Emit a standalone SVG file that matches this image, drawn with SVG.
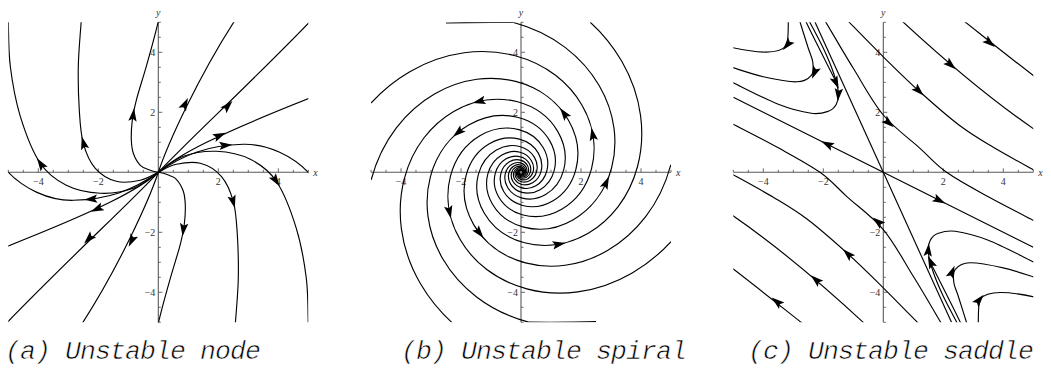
<svg xmlns="http://www.w3.org/2000/svg" xmlns:xlink="http://www.w3.org/1999/xlink" width="1051" height="371" viewBox="0 0 1051 371">
<defs>
<style>
.c{fill:none;stroke:#000;stroke-width:1.15}
.ax{stroke:#5a5a5a;stroke-width:1.1;fill:none}
.tk{stroke:#5a5a5a;stroke-width:0.9;fill:none}
.tl{font-family:"Liberation Serif",serif;font-size:10px;fill:#333}
.al{font-family:"Liberation Serif",serif;font-size:10px;font-style:italic;fill:#333}
.cap{font-family:"Liberation Mono",monospace;font-style:italic;font-size:26.5px;letter-spacing:-0.9px;fill:#000;stroke:#fff;stroke-width:0.6}
</style>
<path id="ah" d="M6,0 L-7,-4.2 L-4.5,0 L-7,4.2 Z" fill="#000"/>
<clipPath id="sq"><rect x="-150" y="-150" width="300" height="300"/></clipPath>
<path id="sb0" class="c" d="M0,1.627 C0.4315,1.7651 0.9613,1.7459 1.4792,1.4792 C1.9971,1.2125 2.4614,0.7133 2.6897,0 C2.9183,-0.7134 2.8866,-1.5894 2.4456,-2.4456 C2.0048,-3.3022 1.1794,-4.0699 0,-4.4473 C-1.1794,-4.8244 -2.6276,-4.7720 -4.0429,-4.0429 C-5.4587,-3.3141 -6.7278,-1.9497 -7.3517,0 C-7.9749,1.9496 -7.8882,4.3435 -6.6830,6.6830 C-5.4783,9.0234 -3.2228,11.1212 0,12.1525 C3.2228,13.1833 7.1803,13.0401 11.0477,11.0477 C14.9156,9.0555 18.3832,5.3273 20.0879,0 C21.7929,-5.3275 21.5560,-11.8694 18.2626,-18.2626 C14.9691,-24.6560 8.8062,-30.3880 0,-33.2060 C-8.8068,-36.0251 -19.6210,-35.6337 -30.1894,-30.1894 C-40.7583,-24.7450 -50.2338,-14.5574 -54.8921,0 C-59.5517,14.5582 -58.9046,32.4347 -49.9049,49.9049 C-40.9051,67.3761 -24.0643,83.0397 0,90.7403 C24.0654,98.4420 53.6161,97.3723 82.4954,82.4954 C111.3770,67.6188 137.2704,39.7799 150,0"/>
<path id="sb1" class="c" d="M0,1.627 C0.4315,1.7651 0.9613,1.7459 1.4792,1.4792 C1.9971,1.2125 2.4614,0.7133 2.6897,0 C2.9183,-0.7134 2.8866,-1.5894 2.4456,-2.4456 C2.0048,-3.3022 1.1794,-4.0699 0,-4.4473 C-1.1794,-4.8244 -2.6276,-4.7720 -4.0429,-4.0429 C-5.4587,-3.3141 -6.7278,-1.9497 -7.3517,0 C-7.9749,1.9496 -7.8882,4.3435 -6.6830,6.6830 C-5.4783,9.0234 -3.2228,11.1212 0,12.1525 C3.2228,13.1833 7.1803,13.0401 11.0477,11.0477 C14.9156,9.0555 18.3832,5.3273 20.0879,0 C21.7929,-5.3275 21.5560,-11.8694 18.2626,-18.2626 C14.9691,-24.6560 8.8062,-30.3880 0,-33.2060 C-8.8068,-36.0251 -19.6210,-35.6337 -30.1894,-30.1894 C-40.7583,-24.7450 -50.2338,-14.5574 -54.8921,0 C-59.5517,14.5582 -58.9046,32.4347 -49.9049,49.9049 C-40.9051,67.3761 -24.0643,83.0397 0,90.7403 C24.0654,98.4420 53.6161,97.3723 82.4954,82.4954 C111.3770,67.6188 137.2704,39.7799 150,0 C154.85,-15.16 157.62,-31.73 157.74,-49.26"/>
<path id="sedge" class="c" d="M-7.49,-149.81 C-28,-150 -52,-150 -75,-149.3"/>
<g id="axes">
<path class="ax" d="M-150,0H150M0,-150V150"/>
<path class="tk" d="M-150,0v-2.5M-135,0v-2.5M-120,0v-4M-105,0v-2.5M-90,0v-2.5M-75,0v-2.5M-60,0v-4M-45,0v-2.5M-30,0v-2.5M-15,0v-2.5M15,0v-2.5M30,0v-2.5M45,0v-2.5M60,0v-4M75,0v-2.5M90,0v-2.5M105,0v-2.5M120,0v-4M135,0v-2.5M150,0v-2.5M0,-150h2.5M0,-135h2.5M0,-120h4M0,-105h2.5M0,-90h2.5M0,-75h2.5M0,-60h4M0,-45h2.5M0,-30h2.5M0,-15h2.5M0,15h2.5M0,30h2.5M0,45h2.5M0,60h4M0,75h2.5M0,90h2.5M0,105h2.5M0,120h4M0,135h2.5M0,150h2.5"/>
<text class="tl" x="-120" y="13" text-anchor="middle">−4</text>
<text class="tl" x="-60" y="13" text-anchor="middle">−2</text>
<text class="tl" x="60" y="13" text-anchor="middle">2</text>
<text class="tl" x="120" y="13" text-anchor="middle">4</text>
<text class="tl" x="-3" y="-116.5" text-anchor="end">4</text>
<text class="tl" x="-3" y="-56.5" text-anchor="end">2</text>
<text class="tl" x="-3" y="63.5" text-anchor="end">−2</text>
<text class="tl" x="-3" y="123.5" text-anchor="end">−4</text>
<text class="al" x="155" y="4">x</text>
<text class="al" x="0" y="-156" text-anchor="middle">y</text>
</g>
</defs>

<g id="node" transform="translate(158.3,172.3)">
<use xlink:href="#axes"/>
<g clip-path="url(#sq)">
<g id="node-half">
<path class="c" d="M0,0 C-4.2,2.7 -15.3,12.5 -25,16 C-34.7,19.5 -46.8,21.5 -58,21 C-69.2,20.5 -82,18 -92,13 C-102,8 -110.3,2.5 -118,-9 C-125.7,-20.5 -133,-39.8 -138,-56 C-143,-72.2 -146,-90 -148,-106 C-150,-122 -149.7,-144.3 -150,-152"/>
<path class="c" d="M0,0 C-3,1.3 -11,6.5 -18,8 C-25,9.5 -34.5,11 -42,9 C-49.5,7 -57.5,2.3 -63,-4 C-68.5,-10.3 -72.3,-19.3 -75,-29 C-77.7,-38.7 -78.2,-49.2 -79,-62 C-79.8,-74.8 -80.3,-91 -80,-106 C-79.7,-121 -77.5,-144.3 -77,-152"/>
<path class="c" d="M0,0 C-1.3,-0.3 -5,-0.8 -8,-2 C-11,-3.2 -15.2,-4.2 -18,-7 C-20.8,-9.8 -23.5,-14.7 -25,-19 C-26.5,-23.3 -26.8,-27.5 -27,-33 C-27.2,-38.5 -26.8,-45.5 -26,-52 C-25.2,-58.5 -24.3,-63 -22,-72 C-19.7,-81 -15.7,-93 -12,-106 C-8.3,-119 -2,-142.3 0,-151"/>
<path class="c" d="M0,0 C10,-30 40,-95 76,-151"/>
<path class="c" d="M0,0 C30,-32 90,-87 151,-150"/>
<path class="c" d="M0,0 C20,-18 60,-38 151,-74"/>
<path class="c" d="M0,0 C25,-18 50,-27 85,-28 C110,-28.5 135,-16 151,1"/>
<use xlink:href="#ah" transform="translate(-118,-9) rotate(-124)"/>
<use xlink:href="#ah" transform="translate(-75,-30) rotate(-105)"/>
<use xlink:href="#ah" transform="translate(-25,-58) rotate(-83)"/>
<use xlink:href="#ah" transform="translate(27,-69) rotate(-64)"/>
<use xlink:href="#ah" transform="translate(70,-67) rotate(-46)"/>
<use xlink:href="#ah" transform="translate(62,-37) rotate(-24)"/>
<use xlink:href="#ah" transform="translate(68,-27) rotate(-5)"/>
</g>
<use xlink:href="#node-half" transform="rotate(180)"/>
</g>
</g>

<g id="spiral" transform="translate(521,172.3)">
<use xlink:href="#axes"/>
<g clip-path="url(#sq)">
<use xlink:href="#sb0" transform="rotate(-2.86)"/>
<use xlink:href="#sb1" transform="rotate(-47.86)"/>
<use xlink:href="#sb0" transform="rotate(-92.86)"/>
<use xlink:href="#sb1" transform="rotate(-137.86)"/>
<use xlink:href="#sb0" transform="rotate(-182.86)"/>
<use xlink:href="#sb1" transform="rotate(-227.86)"/>
<use xlink:href="#sb0" transform="rotate(-272.86)"/>
<use xlink:href="#sb1" transform="rotate(-317.86)"/>
<use xlink:href="#sedge"/>
<use xlink:href="#sedge" transform="rotate(180)"/>
</g>
<use xlink:href="#ah" transform="translate(42.6,-59.5) rotate(-126.7)"/>
<use xlink:href="#ah" transform="translate(71.6,-38.6) rotate(-100.6)"/>
<use xlink:href="#ah" transform="translate(85.5,9.7) rotate(-65.8)"/>
<use xlink:href="#ah" transform="translate(-42.6,-70.8) rotate(-193.3)"/>
<use xlink:href="#ah" transform="translate(-63.4,-39.4) rotate(-220.4)"/>
<use xlink:href="#ah" transform="translate(-71.4,40.4) rotate(-281.8)"/>
<use xlink:href="#ah" transform="translate(-41.2,61.1) rotate(-308.3)"/>
<use xlink:href="#ah" transform="translate(38.6,71.8) rotate(-10.5)"/>
</g>

<g id="saddle" transform="translate(883.3,172.3)">
<use xlink:href="#axes"/>
<g clip-path="url(#sq)">
<g id="saddle-half">
<path class="c" d="M-68.2,-150 L0,0"/>
<path class="c" d="M-150,-75 L0,0"/>
<path class="c" d="M-151,-124.7 C-125,-119 -103,-118 -97,-127 C-95,-130 -95,-142 -95,-151"/>
<path class="c" d="M-151,-104.8 C-145.8,-103.3 -130.7,-98 -120,-95.6 C-109.3,-93.2 -94.7,-90.3 -86.7,-90.5 C-78.7,-90.7 -74.7,-93.75 -72,-97 C-69.3,-100.25 -70,-105.5 -70.5,-110 C-71,-114.5 -72.8,-117.2 -75,-124 C-77.2,-130.8 -82.1,-146.5 -83.5,-151"/>
<path class="c" d="M-151,-90 C-143.3,-86.3 -118.2,-73.2 -105,-68 C-91.8,-62.8 -80.3,-60.2 -72,-59 C-63.7,-57.8 -59.2,-59.5 -55,-61 C-50.8,-62.5 -48.7,-64.8 -47,-68 C-45.3,-71.2 -44.5,-74.7 -45,-80 C-45.5,-85.3 -47.5,-92.7 -50,-100 C-52.5,-107.3 -56,-115.5 -60,-124 C-64,-132.5 -71.7,-146.5 -74,-151"/>
<path class="c" d="M-77.5,-151 C-70,-135 -57,-110 -48,-92"/>
<path class="c" d="M81,-151 C100,-136 125,-116 151,-96"/>
<path class="c" d="M19,-151 C45,-127 100,-78 151,-43"/>
<path class="c" d="M-35,-151 C-29.2,-145.1 -11.8,-127.2 0,-115.5 C11.8,-103.8 23.3,-92.4 36,-81 C48.7,-69.6 63.7,-56.3 76,-47 C88.3,-37.7 97.5,-32.5 110,-25 C122.5,-17.5 144.2,-5.8 151,-2"/>
<path class="c" d="M-58,-151 C-53.3,-143.2 -39.7,-119.6 -30,-104 C-20.3,-88.4 -11.1,-70.6 0,-57.3 C11.1,-44 26.2,-33.6 36.7,-24 C47.2,-14.5 51.9,-8.1 63.3,0 C74.7,8.1 90.4,16.4 105,24.5 C119.6,32.6 143.3,44.5 151,48.5"/>
<use xlink:href="#ah" transform="translate(-96.5,-127) rotate(130)"/>
<use xlink:href="#ah" transform="translate(-69,-99) rotate(112)"/>
<use xlink:href="#ah" transform="translate(-45,-77) rotate(95)"/>
<use xlink:href="#ah" transform="translate(-47,-89) rotate(66)"/>
<use xlink:href="#ah" transform="translate(-56.7,-28.4) rotate(206.6)"/>
<use xlink:href="#ah" transform="translate(107,-129) rotate(39.5)"/>
<use xlink:href="#ah" transform="translate(68,-107) rotate(41)"/>
<use xlink:href="#ah" transform="translate(36,-81) rotate(44)"/>
<use xlink:href="#ah" transform="translate(6,-49) rotate(40)"/>
</g>
<use xlink:href="#saddle-half" transform="rotate(180)"/>
</g>
</g>

<g id="captions">
<text class="cap" x="5" y="359">(a) Unstable node</text>
<text class="cap" x="401" y="359">(b) Unstable spiral</text>
<text class="cap" x="748" y="359">(c) Unstable saddle</text>
</g>
</svg>
